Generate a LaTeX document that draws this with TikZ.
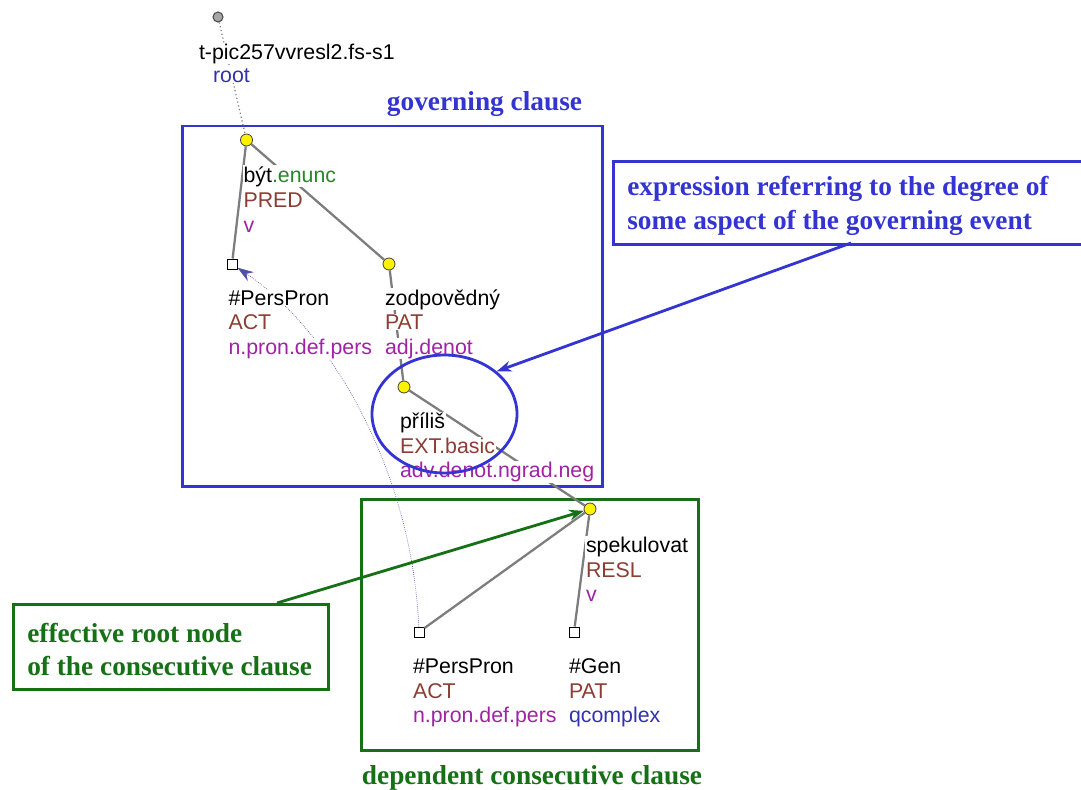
\documentclass[tikz,border=0pt]{standalone}
\usepackage{fontspec}
\setmainfont{Liberation Serif}
\newfontfamily\treefont{Liberation Sans}
\usetikzlibrary{arrows.meta,shapes.geometric}
\definecolor{gblue}{RGB}{52,52,210}
\definecolor{ggreen}{RGB}{22,112,22}
\definecolor{fbrown}{RGB}{140,62,52}
\definecolor{fpurple}{RGB}{160,35,165}
\definecolor{fgreen}{RGB}{40,135,40}
\definecolor{fblue}{RGB}{50,50,175}
\definecolor{edgegray}{RGB}{125,125,125}
\definecolor{corefblue}{RGB}{80,80,170}
\begin{document}
\begin{tikzpicture}[x=0.75pt,y=-0.75pt,
  lab/.style={font=\treefont\fontsize{16}{18}\selectfont, anchor=base west, inner sep=0.6pt, fill=white},
  tedge/.style={draw=edgegray, line width=1.7pt},
  yel/.style={circle, draw=black!75, fill=yellow, line width=0.6pt, minimum size=9pt, inner sep=0pt},
  sq/.style={rectangle, draw=black, fill=white, line width=0.7pt, minimum size=7.5pt, inner sep=0pt},
  rootc/.style={circle, draw=black!70, fill=black!35, line width=0.8pt, minimum size=7.5pt, inner sep=0pt},
  frame/.style={rectangle, draw=#1, line width=2.1pt, inner sep=0pt, anchor=north west},
  note/.style={font=\bfseries\fontsize{20.5}{24}\selectfont, text=#1, anchor=base west, inner sep=0pt},
  notec/.style={font=\bfseries\fontsize{20.5}{24}\selectfont, text=#1, anchor=base, inner sep=0pt},
  noteArrow/.style={draw=#1, line width=2.1pt, -{Stealth[length=11pt,width=8pt]}},
  coref/.style={draw=corefblue, line width=0.5pt, densely dotted, -{Stealth[length=12pt,width=8pt,fill=corefblue,line width=0.5pt]}}
]
\clip (0,0) rectangle (1081,789);
\fill[white] (0,0) rectangle (1081,789);

% frames
\node[frame=gblue, minimum width=315pt, minimum height=270.4pt] (gov) at (181,124.5) {};
\node[frame=ggreen, minimum width=252.75pt, minimum height=188.25pt] (dep) at (360,498) {};
\node[frame=gblue, minimum width=358.5pt, minimum height=62.25pt] (exprbox) at (612,160) {};
\node[frame=ggreen, minimum width=236.25pt, minimum height=63.75pt] (effbox) at (12,603) {};

% frame captions
\node[notec=gblue] (govlab) at (484.5,110) {governing clause};
\node[notec=ggreen] (deplab) at (532,784) {dependent consecutive clause};
\node[note=gblue] (expr1) at (627,195) {expression referring to the degree of};
\node[note=gblue] (expr2) at (627,229) {some aspect of the governing event};
\node[note=ggreen] (eff1) at (27,642) {effective root node};
\node[note=ggreen] (eff2) at (27,675) {of the consecutive clause};

% tree nodes
\node[rootc] (root) at (218,17) {};
\node[yel] (byt) at (246.5,140) {};
\node[sq] (pp1) at (232,264) {};
\node[yel] (zod) at (389,264) {};
\node[yel] (pri) at (404,387) {};
\node[yel] (spe) at (590,509) {};
\node[sq] (pp2) at (419,632) {};
\node[sq] (gen) at (574,632) {};

% tree edges
\draw[edgegray, line width=0.9pt, dotted] (root) -- (byt);
\draw[tedge] (byt) -- (pp1);
\draw[tedge] (byt) -- (zod);
\draw[tedge] (zod) -- (pri);
\draw[tedge] (pri) -- (spe);
\draw[tedge] (spe) -- (pp2);
\draw[tedge] (spe) -- (gen);

% coreference arrow
\draw[coref] (pp2) .. controls (412,470) and (330,330) .. (pp1);

% labels
\node[lab] (rootl1) at (198,59) {t-pic257vvresl2.fs-s1};
\node[lab, text=fblue] (rootl2) at (212,82) {root};

\node[lab] (bytl1) at (242.5,182) {být\textcolor{fgreen}{.enunc}};
\node[lab, text=fbrown] (bytl2) at (242.5,207) {PRED};
\node[lab, text=fpurple] (bytl3) at (242.5,232) {v};

\node[lab] (pp1l1) at (227.5,305) {\#PersPron};
\node[lab, text=fbrown] (pp1l2) at (227.5,329.5) {ACT};
\node[lab, text=fpurple] (pp1l3) at (227.5,354) {n.pron.def.pers};

\node[lab] (zodl1) at (384,305) {zodpovědný};
\node[lab, text=fbrown] (zodl2) at (384,329.5) {PAT};
\node[lab, text=fpurple] (zodl3) at (384,354) {adj.denot};

\node[lab] (pril1) at (399,428.5) {příliš};
\node[lab, text=fbrown] (pril2) at (399,453) {EXT.basic};
\node[lab, text=fpurple] (pril3) at (399,477.5) {adv.denot.ngrad.neg};

\node[lab] (spel1) at (585,552) {spekulovat};
\node[lab, text=fbrown] (spel2) at (585,577) {RESL};
\node[lab, text=fpurple] (spel3) at (585,601) {v};

\node[lab] (pp2l1) at (412,673.5) {\#PersPron};
\node[lab, text=fbrown] (pp2l2) at (412,698) {ACT};
\node[lab, text=fpurple] (pp2l3) at (412,722.5) {n.pron.def.pers};

\node[lab] (genl1) at (568,673.5) {\#Gen};
\node[lab, text=fbrown] (genl2) at (568,698) {PAT};
\node[lab, text=fblue] (genl3) at (568,722.5) {qcomplex};

% highlight ellipse
\node[ellipse, draw=gblue, line width=2.1pt, minimum width=108.75pt, minimum height=88.5pt, inner sep=0pt] (ell) at (444.5,414) {};

% annotation arrows
\coordinate (exprfoot) at (851,243);
\coordinate (efffoot) at (277,603);
\draw[noteArrow=gblue] (exprfoot) -- (ell.north east);
\draw[noteArrow=ggreen] (efffoot) -- (spe);
\end{tikzpicture}
\end{document}
